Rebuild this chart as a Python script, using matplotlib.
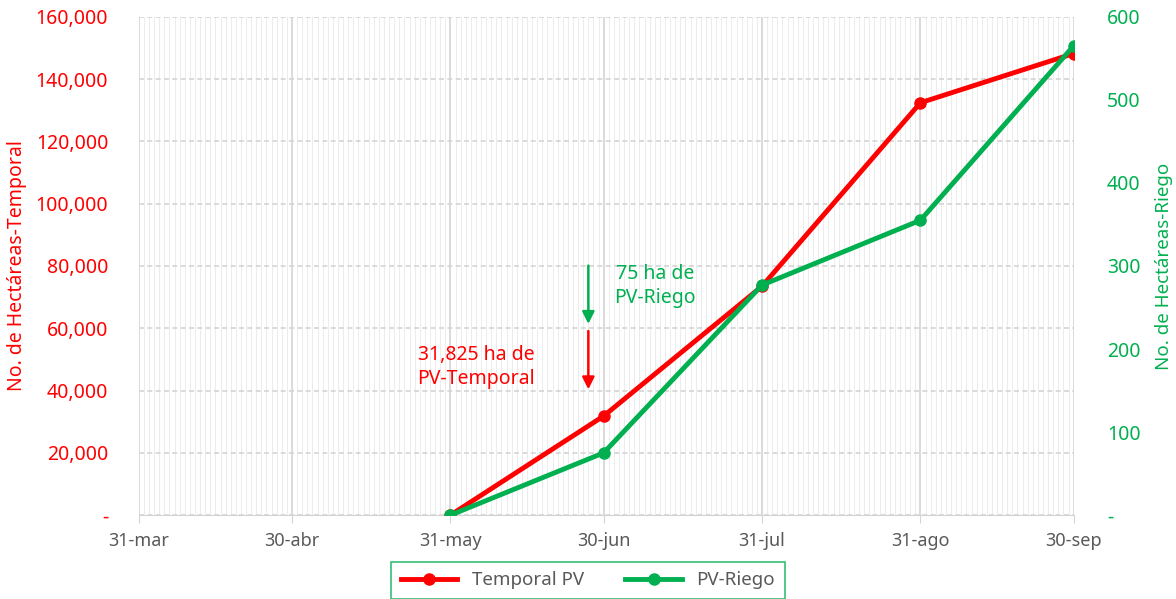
import matplotlib
matplotlib.use("Agg")
import matplotlib.pyplot as plt
import matplotlib.dates as mdates
import pandas as pd
from matplotlib.ticker import FuncFormatter

# data
fechas = ["2024-05-31", "2024-06-30", "2024-07-31", "2024-08-31", "2024-09-30"]
temporal = [0, 31825, 73500, 132400, 148200]
riego = [0, 75, 277, 355, 565]
tick_fechas = ["2024-03-31", "2024-04-30", "2024-05-31", "2024-06-30",
               "2024-07-31", "2024-08-31", "2024-09-30"]
tick_labels = ["31-mar", "30-abr", "31-may", "30-jun", "31-jul", "31-ago", "30-sep"]

RED = "#FF0000"
GREEN = "#00B050"
GRAY = "#595959"
plt.rcParams["font.family"] = ["Noto Sans", "DejaVu Sans"]

x = pd.to_datetime(fechas)
xt = pd.to_datetime(tick_fechas)

fig = plt.figure(figsize=(11.76, 5.99), dpi=100)
ax = fig.add_axes([0.118, 0.140, 0.795, 0.832])
ax2 = ax.twinx()

ax.set_xlim(xt[0], xt[-1])
ax.set_ylim(0, 160000)
ax2.set_ylim(0, 600)

# grid: daily minor lines, month majors, dashed horizontals
ax.xaxis.set_minor_locator(mdates.DayLocator())
ax.set_xticks(xt)
ax.set_xticklabels(tick_labels)
ax.grid(which="minor", axis="x", color="#ececec", linewidth=0.7)
ax.grid(which="major", axis="x", color="#d4d4d4", linewidth=1.2)
ax.grid(which="major", axis="y", color="#d4d4d4", linewidth=1.2, linestyle=(0, (3, 2)))
ax.set_axisbelow(True)

for a in (ax, ax2):
    for s in a.spines.values():
        s.set_visible(False)
ax.spines["bottom"].set_visible(True)
ax.spines["bottom"].set_color("#d4d4d4")

ax.set_yticks(range(0, 160001, 20000))
ax.yaxis.set_major_formatter(FuncFormatter(lambda v, p: "-" if v == 0 else f"{int(v):,}"))
ax2.set_yticks(range(0, 601, 100))
ax2.yaxis.set_major_formatter(FuncFormatter(lambda v, p: "-" if v == 0 else f"{int(v)}"))

ax.tick_params(axis="y", length=0, labelsize=14, labelcolor=RED, pad=22)
ax2.tick_params(axis="y", length=0, labelsize=14, labelcolor=GREEN, pad=24)
ax.tick_params(axis="x", which="major", length=6, color="#d4d4d4", labelsize=13,
               labelcolor=GRAY, pad=6)
ax.tick_params(axis="x", which="minor", length=0)

ax.set_ylabel("No. de Hectáreas-Temporal", color=RED, fontsize=14, labelpad=6)
ax2.set_ylabel("No. de Hectáreas-Riego", color=GREEN, fontsize=13.5, labelpad=10)

l1, = ax.plot(x, temporal, color=RED, linewidth=3.5, marker="o", markersize=8,
              label="Temporal PV", zorder=3)
l2, = ax2.plot(x, riego, color=GREEN, linewidth=3.5, marker="o", markersize=8,
               label="PV-Riego", zorder=3)

# annotations
ax.annotate("", xy=(pd.Timestamp("2024-06-27"), 60500), xytext=(pd.Timestamp("2024-06-27"), 81000),
            arrowprops=dict(arrowstyle="-|>", color=GREEN, lw=1.8, mutation_scale=18))
ax.annotate("", xy=(pd.Timestamp("2024-06-27"), 39500), xytext=(pd.Timestamp("2024-06-27"), 60000),
            arrowprops=dict(arrowstyle="-|>", color=RED, lw=1.8, mutation_scale=18))
ax.text(pd.Timestamp("2024-07-10"), 73500, "75 ha de\nPV-Riego", color=GREEN,
        fontsize=14, ha="center", va="center", linespacing=1.25)
ax.text(pd.Timestamp("2024-06-05"), 47500, "31,825 ha de\nPV-Temporal", color=RED,
        fontsize=14, ha="center", va="center", linespacing=1.25)

leg = fig.legend(handles=[l1, l2], loc="upper center", bbox_to_anchor=(0.5, 0.062),
                 ncol=2, frameon=True, fancybox=False, fontsize=13.5, handlelength=3,
                 columnspacing=2.2, borderpad=0.5, borderaxespad=0)
leg.get_frame().set_edgecolor(GREEN)
leg.get_frame().set_linewidth(1.2)
for t in leg.get_texts():
    t.set_color(GRAY)

fig.savefig("out.png", dpi=100)
